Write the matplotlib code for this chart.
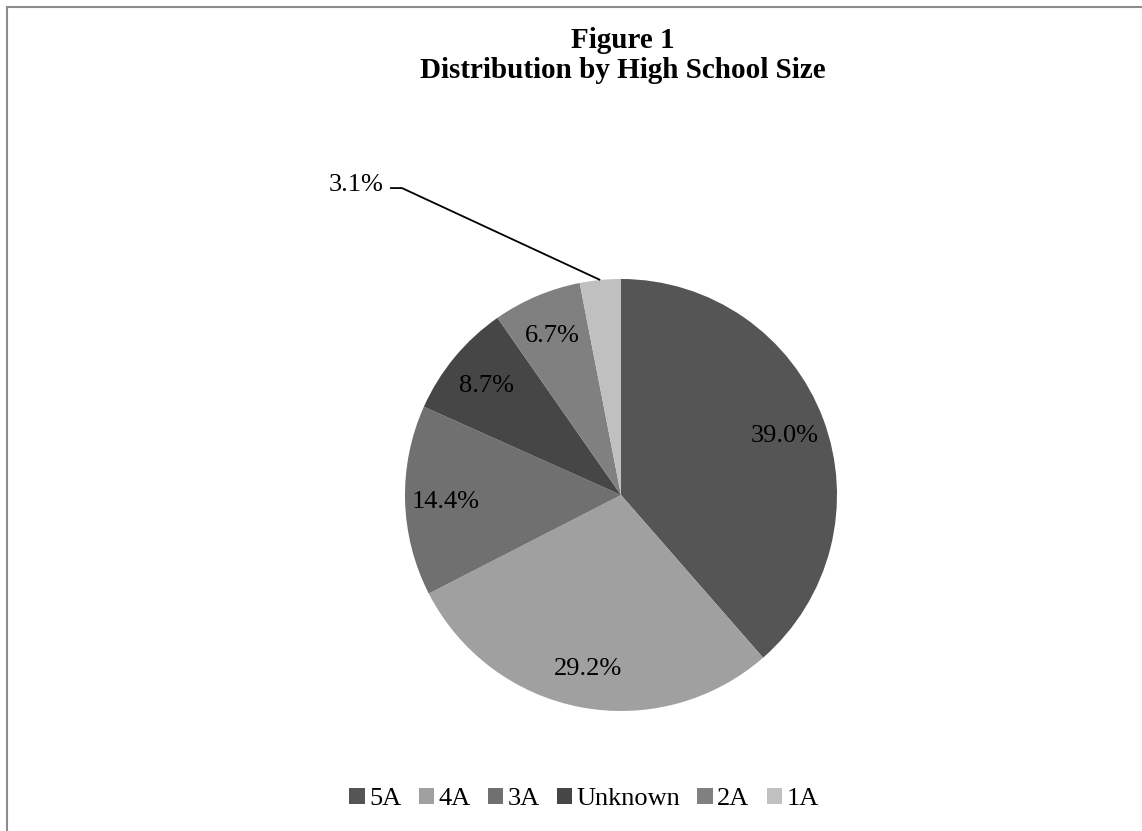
import matplotlib.pyplot as plt
import numpy as np
from matplotlib.patches import Rectangle, Patch

plt.rcParams['font.family'] = ['Liberation Serif', 'DejaVu Serif']

CATEGORIES = ['5A', '4A', '3A', 'Unknown', '2A', '1A']
SHARES = [39.0, 29.2, 14.4, 8.7, 6.7, 3.1]
LABELS = ['39.0%', '29.2%', '14.4%', '8.7%', '6.7%', '3.1%']
COLORS = ['#555555', '#a0a0a0', '#707070', '#464646', '#808080', '#c0c0c0']

W, H = 1142, 831
fig = plt.figure(figsize=(W / 100, H / 100), dpi=100)

# chart frame (only top and left edges visible in the reference)
fig.patches.append(Rectangle((7 / W, -0.1), 1.2, 1 - 7 / H + 0.1, transform=fig.transFigure,
                             fill=False, edgecolor='#8c8c8c', linewidth=1.5))

fig.text(623 / W, 1 - 40 / H, 'Figure 1', ha='center', va='center', fontsize=21, fontweight='bold')
fig.text(623 / W, 1 - 71 / H, 'Distribution by High School Size', ha='center', va='center',
         fontsize=21, fontweight='bold')

# pie centred at (621, 495) px, radius ~216 px
r = 216
ax = fig.add_axes([(621 - r) / W, 1 - (495 + r) / H, 2 * r / W, 2 * r / H])
wedges, _ = ax.pie(SHARES, colors=COLORS, startangle=90, counterclock=False,
                   wedgeprops=dict(linewidth=0))
ax.set_aspect('equal')
ax.set_xlim(-1, 1)
ax.set_ylim(-1, 1)

for w, lab in zip(wedges[:-1], LABELS[:-1]):
    ang = np.deg2rad((w.theta1 + w.theta2) / 2)
    ax.text(0.81 * np.cos(ang), 0.81 * np.sin(ang), lab, ha='center', va='center_baseline',
            fontsize=19)

# leader line for the small 1A slice
w = wedges[-1]
ang = np.deg2rad((w.theta1 + w.theta2) / 2)
ax.plot([-1.069, -1.014, np.cos(ang)], [1.421, 1.421, np.sin(ang)], color='black',
        linewidth=1.3, clip_on=False, solid_capstyle='butt')
ax.text(-1.10, 1.435, LABELS[-1], ha='right', va='center', fontsize=19)

handles = [Patch(facecolor=c, edgecolor='none') for c in COLORS]
fig.legend(handles, CATEGORIES, loc='center', bbox_to_anchor=(584 / W, 1 - 799 / H), ncol=6,
           frameon=False, fontsize=19, handlelength=0.6, handleheight=0.6,
           handletextpad=0.15, columnspacing=0.65)

fig.savefig('out.png', dpi=100, facecolor='white')
